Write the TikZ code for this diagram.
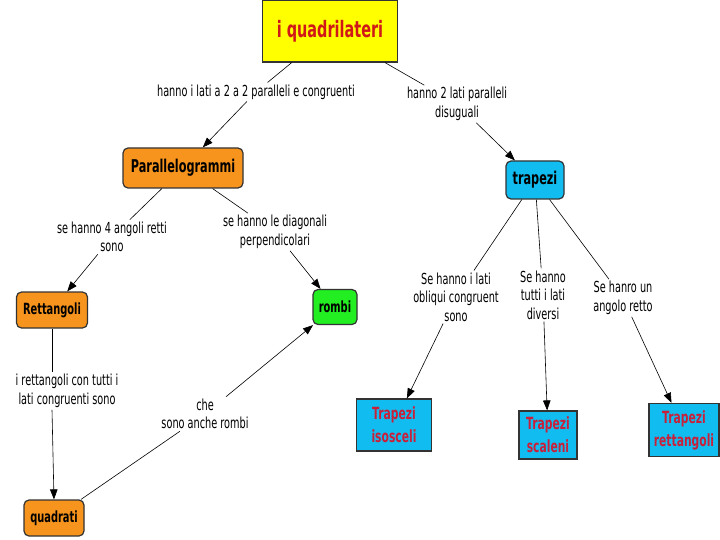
\documentclass[tikz,border=0pt]{standalone}
\usepackage{fontspec}
\setmainfont{DejaVu Sans}[FakeStretch=0.64]
\usetikzlibrary{arrows.meta}
\definecolor{qyellow}{HTML}{FFFF00}
\definecolor{qred}{HTML}{D01818}
\definecolor{qorange}{HTML}{F7941D}
\definecolor{qgreen}{HTML}{22EE22}
\definecolor{qcyan}{HTML}{11BDF0}
\definecolor{trred}{HTML}{C8203A}
\definecolor{bord}{HTML}{333333}
\tikzset{
  box/.style={draw=bord, line width=1.2pt, align=center, inner sep=0pt},
  rbox/.style={box, rounded corners=5pt, font=\bfseries\fontsize{17.6}{19}\selectfont},
  sbox/.style={rbox, font=\bfseries\fontsize{15.4}{17}\selectfont},
  lab/.style={align=center, font=\fontsize{15.2}{18.5}\selectfont, inner sep=2pt},
  trbox/.style={box, fill=qcyan, text=trred, font=\bfseries\fontsize{16.8}{23}\selectfont},
  conn/.style={draw, line width=0.6pt},
  arr/.style={conn, -{Triangle[length=10pt,width=7.5pt]}}
}
\begin{document}
\begin{tikzpicture}[x=1pt,y=-1pt]
\useasboundingbox (0,0) rectangle (720,540);
\node[box, fill=qyellow, text=qred, minimum width=135pt, minimum height=62pt, font=\bfseries\fontsize{22.6}{26}\selectfont] (quad) at (330,31) {i quadrilateri};
\node[rbox, fill=qorange, minimum width=120pt, minimum height=40pt] (par) at (183,168) {Parallelogrammi};
\node[rbox, fill=qcyan, minimum width=58pt, minimum height=38pt] (trap) at (535,180) {trapezi};
\node[sbox, fill=qorange, minimum width=71pt, minimum height=36pt] (rett) at (52,310) {Rettangoli};
\node[sbox, fill=qgreen, minimum width=44pt, minimum height=35pt] (rombi) at (335,307) {rombi};
\node[sbox, fill=qorange, minimum width=60pt, minimum height=36pt] (quadr) at (54,518) {quadrati};
\node[trbox, minimum width=75pt, minimum height=52pt] (iso) at (394,425) {Trapezi\\isosceli};
\node[trbox, minimum width=58pt, minimum height=48pt] (sca) at (548,435) {Trapezi\\scaleni};
\node[trbox, minimum width=70pt, minimum height=53pt] (tret) at (684,430) {Trapezi\\rettangoli};

\node[lab] (l1) at (256,92) {hanno i lati a 2 a 2 paralleli e congruenti};
\node[lab] (l2) at (457,104) {hanno 2 lati paralleli\\disuguali};
\node[lab] (l3) at (112,237) {se hanno 4 angoli retti\\sono};
\node[lab] (l4) at (275,232) {se hanno le diagonali\\perpendicolari};
\node[lab] (l5) at (67,391) {i rettangoli con tutti i\\lati congruenti sono};
\node[lab] (l6) at (205,414) {che\\sono anche rombi};
\node[lab] (l7) at (456,297) {Se hanno i lati\\obliqui congruent\\sono};
\node[lab] (l8) at (543,295) {Se hanno\\tutti i lati\\diversi};
\node[lab] (l9) at (623,298) {Se hanro un\\angolo retto};

\draw[conn] (quad) -- (l1);
\draw[arr] (l1) -- (par);
\draw[conn] (quad) -- (l2);
\draw[arr] (l2) -- (trap);
\draw[conn] (par) -- (l3);
\draw[arr] (l3) -- (rett);
\draw[conn] (par) -- (l4);
\draw[arr] (l4) -- (rombi);
\draw[conn] (rett.south) -- (rett.south |- l5.north);
\draw[arr] (rett.south |- l5.south) -- (quadr.north);
\draw[conn] (quadr) -- (l6);
\draw[arr] (l6) -- (rombi);
\draw[conn] (trap) -- (l7);
\draw[arr] (l7) -- (iso);
\draw[conn] (trap) -- (l8);
\draw[arr] (l8) -- (sca);
\draw[conn] (trap) -- (l9);
\draw[arr] (l9) -- (tret);
\end{tikzpicture}
\end{document}
